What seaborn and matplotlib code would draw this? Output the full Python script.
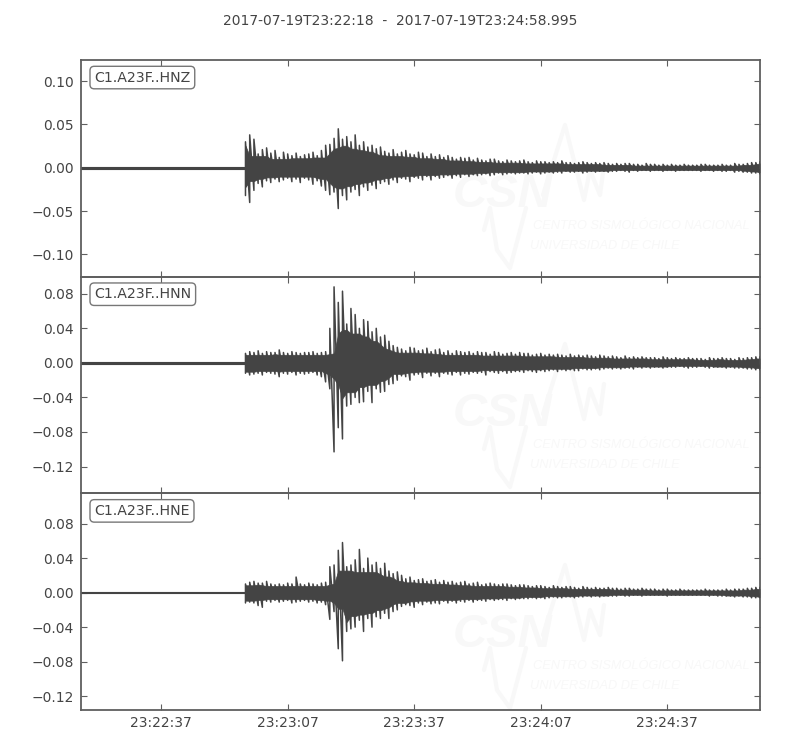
import numpy as np
import pandas as pd
import matplotlib
matplotlib.use("Agg")
import matplotlib.pyplot as plt
import seaborn as sns

# Seconds after 23:22:18
TICK_SEC = [19, 49, 79, 109, 139]
TICK_LABELS = ["23:22:37", "23:23:07", "23:23:37", "23:24:07", "23:24:37"]
TITLE = "2017-07-19T23:22:18  -  2017-07-19T23:24:58.995"
CHANNELS = ["C1.A23F..HNZ", "C1.A23F..HNN", "C1.A23F..HNE"]

# Envelope, one high/low pair per second from the onset
T_PEAK = list(range(39, 162))

Z_HIGH = [.030, .038, .033, .016, .021, .023, .017, .020, .012, .018, .016, .014, .017, .013, .015, .016, .018, .014, .020,
          .026, .027, .034, .045, .033, .036, .030, .038, .026, .030, .024, .026, .022, .024, .019, .017, .021, .016,
          .018, .020, .016, .015, .018, .017, .013, .016, .013, .015,
          .012, .014, .012, .010, .012, .011, .012, .009, .011, .009,
          .008, .010, .010, .008, .007, .009, .008, .007, .008, .009,
          .007, .006, .008, .007, .007, .006, .007, .006, .008, .006,
          .006, .005, .006, .007, .006, .005, .006, .005, .006, .005,
          .004, .005, .004, .005, .005, .004, .004, .003, .005, .004,
          .004, .003, .004, .003, .004, .003, .003, .004, .003, .003,
          .003, .004, .004, .003, .003, .003, .004, .003, .003, .005,
          .004, .004, .005, .006, .006, .007]
Z_LOW = [-.032, -.040, -.026, -.018, -.022, -.015, -.017, -.013, -.016, -.014, -.012, -.016, -.013, -.017, -.012, -.014, -.019, -.015, -.021,
         -.026, -.031, -.028, -.047, -.032, -.037, -.028, -.025, -.032, -.022, -.026, -.020, -.024, -.018, -.016, -.019, -.014, -.017,
         -.012, -.013, -.016, -.011, -.012, -.014, -.010, -.014, -.010, -.012,
         -.011, -.009, -.012, -.009, -.011, -.008, -.010, -.008, -.009, -.008,
         -.007, -.009, -.008, -.006, -.008, -.007, -.006, -.007, -.006, -.006,
         -.007, -.006, -.005, -.007, -.006, -.005, -.006, -.005, -.006, -.004,
         -.005, -.005, -.004, -.006, -.005, -.004, -.005, -.004, -.004, -.005,
         -.004, -.004, -.003, -.004, -.005, -.003, -.004, -.003, -.003, -.004,
         -.003, -.003, -.004, -.003, -.003, -.004, -.003, -.003, -.003, -.003,
         -.003, -.004, -.003, -.003, -.004, -.003, -.004, -.004, -.003, -.005,
         -.004, -.005, -.005, -.006, -.006, -.007]

N_HIGH = [.011, .013, .012, .014, .011, .013, .012, .012, .015, .012, .011, .013, .012, .011, .012, .012, .013, .011, .012,
          .013, .040, .088, .070, .083, .045, .063, .056, .040, .050, .048, .036, .040, .030, .032, .025, .020, .018,
          .016, .014, .018, .017, .014, .015, .017, .013, .015, .016,
          .012, .014, .011, .014, .013, .012, .013, .011, .013, .012,
          .012, .010, .013, .012, .010, .011, .012, .010, .012, .011,
          .011, .009, .010, .011, .009, .010, .009, .010, .009, .008,
          .010, .008, .009, .008, .009, .008, .007, .009, .008, .007,
          .008, .007, .006, .008, .006, .007, .006, .007, .006, .006,
          .006, .005, .007, .006, .005, .006, .005, .005, .006, .005,
          .005, .005, .004, .006, .005, .005, .006, .005, .005, .004,
          .006, .005, .006, .006, .007, .007]
N_LOW = [-.012, -.014, -.013, -.012, -.014, -.011, -.012, -.013, -.016, -.012, -.013, -.011, -.014, -.012, -.013, -.012, -.011, -.014, -.016,
         -.022, -.030, -.103, -.075, -.088, -.050, -.048, -.040, -.046, -.045, -.033, -.046, -.030, -.034, -.033, -.025, -.024, -.020,
         -.015, -.016, -.020, -.014, -.013, -.017, -.012, -.015, -.012, -.016,
         -.012, -.013, -.014, -.011, -.014, -.012, -.013, -.011, -.012, -.011,
         -.014, -.010, -.011, -.012, -.010, -.012, -.011, -.010, -.010, -.011,
         -.009, -.010, -.011, -.009, -.010, -.009, -.008, -.010, -.008, -.009,
         -.008, -.009, -.009, -.007, -.008, -.008, -.007, -.008, -.007, -.006,
         -.007, -.006, -.007, -.006, -.006, -.007, -.005, -.006, -.005, -.006,
         -.005, -.005, -.006, -.005, -.005, -.005, -.004, -.005, -.006, -.005,
         -.005, -.004, -.005, -.006, -.005, -.005, -.005, -.006, -.005, -.006,
         -.006, -.006, -.007, -.007, -.008, -.008]

E_HIGH = [.010, .012, .013, .011, .011, .013, .010, .009, .010, .009, .011, .010, .018, .010, .009, .011, .010, .009, .011,
          .012, .030, .032, .049, .058, .030, .032, .038, .050, .028, .040, .032, .035, .028, .034, .025, .022, .024,
          .020, .016, .018, .014, .015, .016, .013, .014, .015, .012,
          .014, .012, .013, .011, .012, .013, .010, .011, .012, .009,
          .010, .011, .010, .009, .010, .010, .009, .008, .009, .009,
          .008, .007, .008, .008, .007, .006, .008, .007, .006, .007,
          .007, .006, .005, .007, .006, .005, .006, .005, .005, .006,
          .005, .005, .004, .005, .005, .004, .004, .005, .004, .004,
          .004, .003, .004, .004, .003, .003, .004, .003, .003, .003,
          .003, .003, .004, .003, .003, .003, .003, .004, .003, .004,
          .004, .004, .005, .005, .006, .006]
E_LOW = [-.012, -.011, -.012, -.015, -.017, -.010, -.011, -.009, -.011, -.010, -.009, -.012, -.011, -.010, -.009, -.011, -.010, -.012, -.011,
         -.014, -.031, -.022, -.065, -.079, -.045, -.042, -.040, -.032, -.045, -.030, -.040, -.028, -.030, -.024, -.030, -.022, -.020,
         -.016, -.014, -.015, -.017, -.012, -.014, -.011, -.013, -.012, -.013,
         -.010, -.012, -.010, -.012, -.010, -.011, -.009, -.011, -.009, -.009,
         -.010, -.008, -.009, -.008, -.008, -.009, -.007, -.008, -.007, -.007,
         -.007, -.006, -.007, -.006, -.007, -.006, -.005, -.006, -.006, -.005,
         -.005, -.006, -.005, -.005, -.004, -.005, -.004, -.005, -.004, -.004,
         -.004, -.004, -.003, -.004, -.004, -.003, -.003, -.004, -.003, -.003,
         -.003, -.003, -.003, -.004, -.003, -.003, -.003, -.003, -.003, -.003,
         -.003, -.003, -.003, -.004, -.003, -.004, -.004, -.004, -.004, -.005,
         -.004, -.005, -.005, -.006, -.006, -.006]

# Flat trace before the onset
T_QUIET = [0, 39]
AMP_QUIET = [.001, .001]

Z_TICKS = [0.10, 0.05, 0.00, -0.05, -0.10]
N_TICKS = [0.08, 0.04, 0.00, -0.04, -0.08, -0.12]
E_TICKS = [0.08, 0.04, 0.00, -0.04, -0.08, -0.12]
YLIMS = [(-0.1256, 0.1244), (-0.151, 0.0998), (-0.136, 0.115)]

INK = "#444444"
FRAME = "#5f5f5f"
WATERMARK = "#f8f8f8"
LOGO_FONT = "Liberation Sans"

sns.set_style("white")
plt.rcParams.update({
    "text.color": INK,
    "axes.edgecolor": FRAME,
    "axes.linewidth": 1.3,
    "xtick.color": FRAME,
    "ytick.color": FRAME,
    "xtick.labelcolor": INK,
    "ytick.labelcolor": INK,
    "xtick.direction": "in",
    "ytick.direction": "in",
    "xtick.top": True,
    "xtick.bottom": True,
    "ytick.left": True,
    "ytick.right": True,
    "xtick.major.size": 4.5,
    "ytick.major.size": 4.5,
    "ytick.major.pad": 5,
    "xtick.major.pad": 4.5,
    "font.size": 10,
})
plt.rcParams["font.family"] = ["DejaVu Sans"]

fig, axes = plt.subplots(3, 1, figsize=(8, 7.5), sharex=True)
fig.subplots_adjust(left=81 / 800, right=760 / 800, top=1 - 60 / 750, bottom=1 - 710 / 750, hspace=0)
fig.suptitle(TITLE, x=0.5, y=1 - 21 / 750, va="center", fontsize=10, color=INK)

traces = [(Z_HIGH, Z_LOW, Z_TICKS), (N_HIGH, N_LOW, N_TICKS), (E_HIGH, E_LOW, E_TICKS)]
logo_shift = [0, 219, 440]

for ax, name, (high, low, yticks), ylim, shift in zip(axes, CHANNELS, traces, YLIMS, logo_shift):
    # pale logo behind the trace, placed in figure pixels
    def px(x, y):
        return x / 800, 1 - (y + shift) / 750
    fig.text(*px(453, 207), "CSN", fontsize=34, fontweight="bold", style="italic", family=LOGO_FONT, color=WATERMARK, zorder=0)
    fig.text(*px(533, 229), "CENTRO SISMOLÓGICO NACIONAL", fontsize=9.2, style="italic", family=LOGO_FONT, color=WATERMARK, zorder=0)
    fig.text(*px(530, 249), "UNIVERSIDAD DE CHILE", fontsize=9.2, style="italic", family=LOGO_FONT, color=WATERMARK, zorder=0)
    zig_x = [[543, 565, 584, 590, 600, 604], [484, 490, 497, 510, 526]]
    zig_y = [[195, 125, 200, 170, 195, 165], [230, 208, 250, 268, 208]]
    for xs, ys in zip(zig_x, zig_y):
        fig.add_artist(plt.Line2D([x / 800 for x in xs], [1 - (y + shift) / 750 for y in ys],
                                  color=WATERMARK, lw=3, zorder=0))
    ax.patch.set_alpha(0)
    ax.set_zorder(2)

    ax.fill_between(T_QUIET, -np.array(AMP_QUIET), AMP_QUIET, color=INK, lw=0.8, zorder=2)
    # solid body below the nearby peaks, so single peaks stay thin spikes
    body_high = pd.Series(high).rolling(5, center=True, min_periods=1).min() * 0.85
    body_low = pd.Series(low).rolling(5, center=True, min_periods=1).max() * 0.85
    ax.fill_between(T_PEAK, body_low, body_high, color=INK, lw=0.5, zorder=2)
    # each peak is drawn low-to-high, so the line zigzags like the waveform
    df = pd.DataFrame({
        "t": np.repeat(T_PEAK, 2),
        "amp": np.column_stack([low, high]).ravel(),
    })
    sns.lineplot(data=df, x="t", y="amp", estimator=None, sort=False, color=INK, lw=1.1, ax=ax, zorder=3)

    ax.set_xlim(0, 160.995)
    ax.set_ylim(*ylim)
    ax.set_yticks(yticks)
    ax.set_yticklabels([f"{v:.2f}".replace("-", "\u2212") for v in yticks])
    ax.set_xlabel("")
    ax.set_ylabel("")
    ax.text(0.0195, 0.919, name, transform=ax.transAxes, fontsize=10.2, color=INK, va="center", ha="left", zorder=5,
            bbox=dict(boxstyle="round,pad=0.3", fc="white", ec="#777777", lw=1))

axes[-1].set_xticks(TICK_SEC)
axes[-1].set_xticklabels(TICK_LABELS)

fig.savefig("out.png", dpi=100)
